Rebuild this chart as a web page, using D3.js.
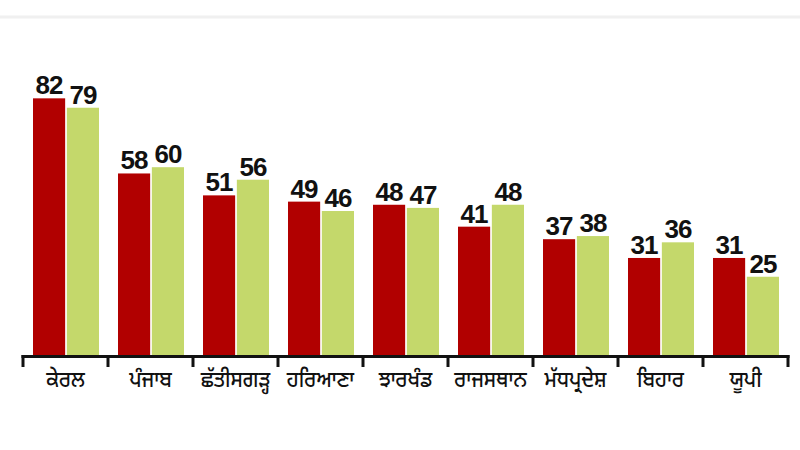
<!DOCTYPE html>
<html>
<head>
<meta charset="utf-8">
<script src="https://cdn.jsdelivr.net/npm/d3@7"></script>
<style>
  body { margin: 0; background: #fff; }
  svg { display: block; }
</style>
</head>
<body>
<script>
// states (Punjabi) and the two series
var states = ["ਕੇਰਲ", "ਪੰਜਾਬ", "ਛੱਤੀਸਗੜ੍ਹ", "ਹਰਿਆਣਾ", "ਝਾਰਖੰਡ", "ਰਾਜਸਥਾਨ", "ਮੱਧਪ੍ਰਦੇਸ਼", "ਬਿਹਾਰ", "ਯੂਪੀ"];
var seriesA = [82, 58, 51, 49, 48, 41, 37, 31, 31];
var seriesB = [79, 60, 56, 46, 47, 48, 38, 36, 25];
var seriesNames = ["a", "b"];
var colors = ["#b10000", "#c4d86b"];

var width = 800, height = 450;

var svg = d3.select("body").append("svg")
    .attr("width", width)
    .attr("height", height);

// faint line at the top of the picture
svg.append("line")
    .attr("x1", 0).attr("x2", width)
    .attr("y1", 17).attr("y2", 17)
    .attr("stroke", "#f0f0f0")
    .attr("stroke-width", 3);

var x0 = d3.scaleBand()
    .domain(states)
    .range([23, 788]);

var x1 = d3.scaleBand()
    .domain(seriesNames)
    .range([10, 76])
    .paddingInner(0.05);

var y = d3.scaleLinear()
    .domain([0, 100])
    .range([355, 42]);

var rows = states.map(function(s, i) {
  return {state: s, values: [seriesA[i], seriesB[i]]};
});

var groups = svg.selectAll("g.state")
    .data(rows)
  .enter().append("g")
    .attr("class", "state")
    .attr("transform", function(d) { return "translate(" + x0(d.state) + ",0)"; });

groups.selectAll("rect")
    .data(function(d) { return d.values.map(function(v, j) { return {key: seriesNames[j], value: v, j: j}; }); })
  .enter().append("rect")
    .attr("x", function(d) { return x1(d.key); })
    .attr("y", function(d) { return y(d.value); })
    .attr("width", x1.bandwidth())
    .attr("height", function(d) { return y(0) - y(d.value); })
    .attr("fill", function(d) { return colors[d.j]; });

groups.selectAll("text.val")
    .data(function(d) { return d.values.map(function(v, j) { return {key: seriesNames[j], value: v}; }); })
  .enter().append("text")
    .attr("class", "val")
    .attr("x", function(d) { return x1(d.key) + x1.bandwidth() / 2; })
    .attr("y", function(d) { return y(d.value) - 4; })
    .attr("text-anchor", "middle")
    .style("font-family", "'Liberation Sans', Arial, sans-serif")
    .style("font-weight", "bold")
    .style("font-size", "26px")
    .style("letter-spacing", "-1px")
    .attr("fill", "#111")
    .text(function(d) { return d.value; });

// axis: baseline with ticks at band edges
var axis = svg.append("g");
axis.append("line")
    .attr("x1", x0.range()[0] - 1.5).attr("x2", x0.range()[1] + 1.5)
    .attr("y1", 356.5).attr("y2", 356.5)
    .attr("stroke", "#111")
    .attr("stroke-width", 3);

var edges = states.map(function(s) { return x0(s); }).concat([x0.range()[1]]);
axis.selectAll("line.tick")
    .data(edges)
  .enter().append("line")
    .attr("class", "tick")
    .attr("x1", function(d) { return d; }).attr("x2", function(d) { return d; })
    .attr("y1", 355).attr("y2", 367)
    .attr("stroke", "#111")
    .attr("stroke-width", 3);

// category labels, squeezed a little horizontally like the original lettering
axis.selectAll("text.cat")
    .data(states)
  .enter().append("text")
    .attr("class", "cat")
    .attr("transform", function(d) {
      return "translate(" + (x0(d) + x0.bandwidth() / 2) + ",387) scale(0.88,1)";
    })
    .attr("text-anchor", "middle")
    .style("font-family", "'Noto Sans Gurmukhi', 'Noto Sans', sans-serif")
    .style("font-size", "23px")
    .style("font-weight", "500")
    .attr("fill", "#111")
    .text(function(d) { return d; });
</script>
</body>
</html>
